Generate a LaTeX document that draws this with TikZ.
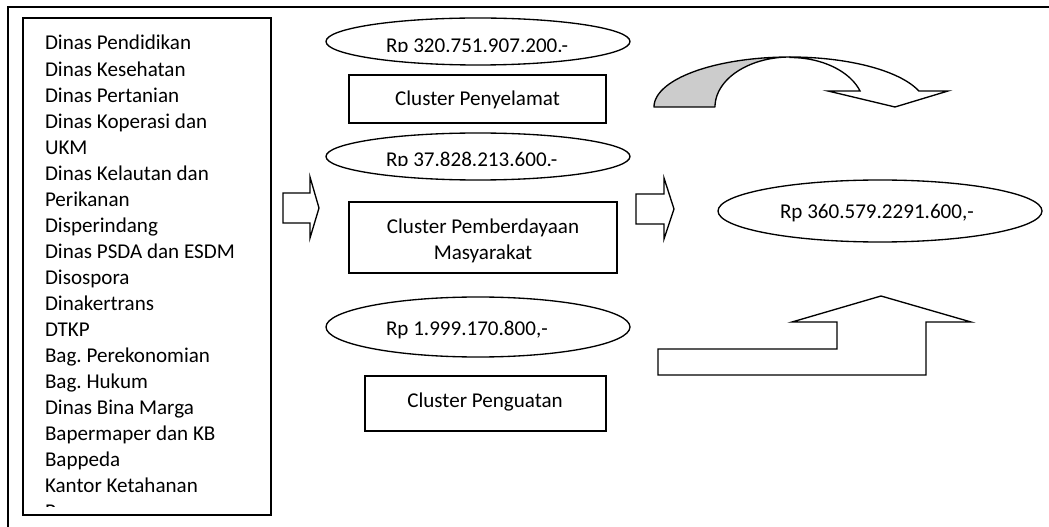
\documentclass[tikz,border=0pt]{standalone}
\usepackage{fontspec}
\setmainfont{Carlito}
\usetikzlibrary{shapes.geometric}
\frenchspacing
\begin{document}
\begin{tikzpicture}[x=0.75pt,y=-0.75pt,
  every node/.style={font=\fontsize{15.8}{19.5}\selectfont, inner sep=0pt, outer sep=0pt},
  frameline/.style={line width=1.3pt},
  box/.style={draw, line width=1pt, rectangle},
  oval/.style={draw, line width=1pt, ellipse},
  blockarrow/.style={draw, fill=white, line width=1pt, line join=miter},
  txt/.style={anchor=base west},
  ctxt/.style={anchor=base}]

\useasboundingbox (0,0) rectangle (1049,527);

% outer frame (partially visible)
\draw[frameline] (8,527) -- (8,7) -- (1049,7);

% list of offices
\node[box, minimum width=186pt, minimum height=372.75pt] (list) at (147,266.5) {};
\begin{scope}
  \clip (24,19) rectangle (270,506.6);
  \foreach \t [count=\i from 0] in {Dinas Pendidikan, Dinas Kesehatan, Dinas Pertanian,
     Dinas Koperasi dan, UKM, Dinas Kelautan dan, Perikanan, Disperindang,
     Dinas PSDA dan ESDM, Disospora, Dinakertrans, DTKP, Bag. Perekonomian,
     Bag. Hukum, Dinas Bina Marga, Bapermaper dan KB, Bappeda, Kantor Ketahanan, Pangan}
    \node[txt] (L\i) at (45,{50+26.04*\i}) {\t};
\end{scope}

% ellipses
\node[oval, minimum width=228pt, minimum height=35.25pt] (e1) at (478,41.5) {};
\begin{scope}
  \clip (330,20) rectangle (626,52);
  \node[txt] (t1) at (386,52.8) {Rp 320.751.907.200.-};
\end{scope}
\node[oval, minimum width=228pt, minimum height=35.25pt] (e2) at (478,156.5) {};
\begin{scope}
  \clip (330,135) rectangle (626,166);
  \node[txt] (t2) at (386,166.8) {Rp 37.828.213.600.-};
\end{scope}
\node[oval, minimum width=228pt, minimum height=45pt] (e3) at (478,327) {};
\node[txt] (t3) at (386,335.3) {Rp 1.999.170.800,-};
\node[oval, minimum width=243pt, minimum height=46.5pt] (e4) at (880,211) {};
\node[txt] (t4) at (780,218.7) {Rp 360.579.2291.600,-};

% cluster boxes
\node[box, minimum width=192.75pt, minimum height=36pt] (r1) at (477.5,99) {};
\node[ctxt] (r1t) at (477.5,105.8) {Cluster Penyelamat};
\node[box, minimum width=201pt, minimum height=53.25pt] (r2) at (483,237.5) {};
\node[ctxt] (r2a) at (483,233.5) {Cluster Pemberdayaan};
\node[ctxt] (r2b) at (483,259.5) {Masyarakat};
\node[box, minimum width=180.75pt, minimum height=41.25pt] (r3) at (485.5,403.5) {};
\node[ctxt] (r3t) at (485,407.7) {Cluster Penguatan};

% block arrows
\draw[blockarrow] (283,193) -- (310,193) -- (310,177) -- (319,208) -- (310,238) -- (310,223) -- (283,223) -- cycle;
\draw[blockarrow] (636,194) -- (664,194) -- (664,178) -- (674,209) -- (664,239) -- (664,224) -- (636,224) -- cycle;
\draw[blockarrow] (658,375) -- (658,349) -- (837,349) -- (837,322) -- (792,322) -- (881,296)
  -- (971,322) -- (926,322) -- (926,375) -- cycle;

% curved arrow
\draw[line width=1pt, fill=black!20, line join=round]
  plot[domain=180:270, samples=40, variable=\a] ({790+136*cos(\a)},{107+50*sin(\a)})
  -- plot[domain=270:180, samples=40, variable=\a] ({790+75*cos(\a)},{107+50*sin(\a)}) -- cycle;
\draw[line width=1pt, fill=white, line join=miter]
  plot[domain=270:341.3, samples=40, variable=\a] ({790+136*cos(\a)},{107+50*sin(\a)})
  -- (948,91) -- (895,107) -- (828,91)
  -- plot[domain=341.1:270, samples=40, variable=\a] ({790+74*cos(\a)},{107+49.5*sin(\a)}) -- cycle;

\end{tikzpicture}
\end{document}
